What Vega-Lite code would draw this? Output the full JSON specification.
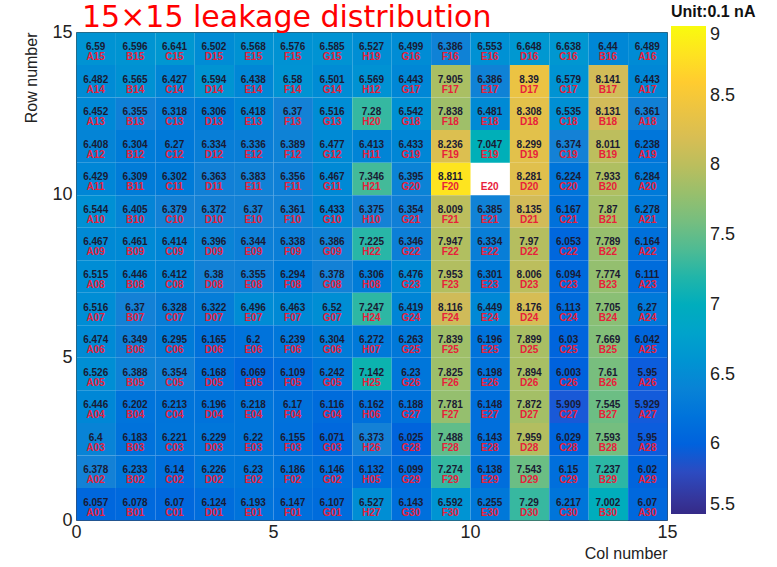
{
"$schema": "https://vega.github.io/schema/vega-lite/v6.json",
"autosize": {"type": "none"},
"padding": {"left": 76, "top": 32, "right": 110, "bottom": 47},
"width": 591,
"height": 488,
"background": "white",
"title": {"text": "15×15 leakage distribution", "anchor": "start", "frame": "bounds", "offset": 0, "dy": 29, "dx": 58, "fontSize": 30, "font": "DejaVu Sans", "fontWeight": "normal", "color": "#ff0000"},
"config": {"view": {"stroke": "#444", "strokeWidth": 1}, "font": "Liberation Sans"},
"data": {"values": [
{"r":14,"c":0,"v":6.59,"l":"A15"},{"r":14,"c":1,"v":6.596,"l":"B15"},{"r":14,"c":2,"v":6.641,"l":"C15"},{"r":14,"c":3,"v":6.502,"l":"D15"},{"r":14,"c":4,"v":6.568,"l":"E15"},{"r":14,"c":5,"v":6.576,"l":"F15"},{"r":14,"c":6,"v":6.585,"l":"G15"},{"r":14,"c":7,"v":6.527,"l":"H19"},{"r":14,"c":8,"v":6.499,"l":"G16"},{"r":14,"c":9,"v":6.386,"l":"F16"},{"r":14,"c":10,"v":6.553,"l":"E16"},{"r":14,"c":11,"v":6.648,"l":"D16"},{"r":14,"c":12,"v":6.638,"l":"C16"},{"r":14,"c":13,"v":6.44,"l":"B16"},{"r":14,"c":14,"v":6.489,"l":"A16"},
{"r":13,"c":0,"v":6.482,"l":"A14"},{"r":13,"c":1,"v":6.565,"l":"B14"},{"r":13,"c":2,"v":6.427,"l":"C14"},{"r":13,"c":3,"v":6.594,"l":"D14"},{"r":13,"c":4,"v":6.438,"l":"E14"},{"r":13,"c":5,"v":6.58,"l":"F14"},{"r":13,"c":6,"v":6.501,"l":"G14"},{"r":13,"c":7,"v":6.569,"l":"H12"},{"r":13,"c":8,"v":6.443,"l":"G17"},{"r":13,"c":9,"v":7.905,"l":"F17"},{"r":13,"c":10,"v":6.386,"l":"E17"},{"r":13,"c":11,"v":8.39,"l":"D17"},{"r":13,"c":12,"v":6.579,"l":"C17"},{"r":13,"c":13,"v":8.141,"l":"B17"},{"r":13,"c":14,"v":6.443,"l":"A17"},
{"r":12,"c":0,"v":6.452,"l":"A13"},{"r":12,"c":1,"v":6.355,"l":"B13"},{"r":12,"c":2,"v":6.318,"l":"C13"},{"r":12,"c":3,"v":6.306,"l":"D13"},{"r":12,"c":4,"v":6.418,"l":"E13"},{"r":12,"c":5,"v":6.37,"l":"F13"},{"r":12,"c":6,"v":6.516,"l":"G13"},{"r":12,"c":7,"v":7.28,"l":"H20"},{"r":12,"c":8,"v":6.542,"l":"G18"},{"r":12,"c":9,"v":7.838,"l":"F18"},{"r":12,"c":10,"v":6.481,"l":"E18"},{"r":12,"c":11,"v":8.308,"l":"D18"},{"r":12,"c":12,"v":6.535,"l":"C18"},{"r":12,"c":13,"v":8.131,"l":"B18"},{"r":12,"c":14,"v":6.361,"l":"A18"},
{"r":11,"c":0,"v":6.408,"l":"A12"},{"r":11,"c":1,"v":6.304,"l":"B12"},{"r":11,"c":2,"v":6.27,"l":"C12"},{"r":11,"c":3,"v":6.334,"l":"D12"},{"r":11,"c":4,"v":6.336,"l":"E12"},{"r":11,"c":5,"v":6.389,"l":"F12"},{"r":11,"c":6,"v":6.477,"l":"G12"},{"r":11,"c":7,"v":6.413,"l":"H11"},{"r":11,"c":8,"v":6.433,"l":"G19"},{"r":11,"c":9,"v":8.236,"l":"F19"},{"r":11,"c":10,"v":7.047,"l":"E19"},{"r":11,"c":11,"v":8.299,"l":"D19"},{"r":11,"c":12,"v":6.374,"l":"C19"},{"r":11,"c":13,"v":8.011,"l":"B19"},{"r":11,"c":14,"v":6.238,"l":"A19"},
{"r":10,"c":0,"v":6.429,"l":"A11"},{"r":10,"c":1,"v":6.309,"l":"B11"},{"r":10,"c":2,"v":6.302,"l":"C11"},{"r":10,"c":3,"v":6.363,"l":"D11"},{"r":10,"c":4,"v":6.383,"l":"E11"},{"r":10,"c":5,"v":6.356,"l":"F11"},{"r":10,"c":6,"v":6.467,"l":"G11"},{"r":10,"c":7,"v":7.346,"l":"H21"},{"r":10,"c":8,"v":6.395,"l":"G20"},{"r":10,"c":9,"v":8.811,"l":"F20"},{"r":10,"c":10,"v":null,"l":"E20"},{"r":10,"c":11,"v":8.281,"l":"D20"},{"r":10,"c":12,"v":6.224,"l":"C20"},{"r":10,"c":13,"v":7.933,"l":"B20"},{"r":10,"c":14,"v":6.284,"l":"A20"},
{"r":9,"c":0,"v":6.544,"l":"A10"},{"r":9,"c":1,"v":6.405,"l":"B10"},{"r":9,"c":2,"v":6.379,"l":"C10"},{"r":9,"c":3,"v":6.372,"l":"D10"},{"r":9,"c":4,"v":6.37,"l":"E10"},{"r":9,"c":5,"v":6.361,"l":"F10"},{"r":9,"c":6,"v":6.433,"l":"G10"},{"r":9,"c":7,"v":6.375,"l":"H10"},{"r":9,"c":8,"v":6.354,"l":"G21"},{"r":9,"c":9,"v":8.009,"l":"F21"},{"r":9,"c":10,"v":6.385,"l":"E21"},{"r":9,"c":11,"v":8.135,"l":"D21"},{"r":9,"c":12,"v":6.167,"l":"C21"},{"r":9,"c":13,"v":7.87,"l":"B21"},{"r":9,"c":14,"v":6.278,"l":"A21"},
{"r":8,"c":0,"v":6.467,"l":"A09"},{"r":8,"c":1,"v":6.461,"l":"B09"},{"r":8,"c":2,"v":6.414,"l":"C09"},{"r":8,"c":3,"v":6.396,"l":"D09"},{"r":8,"c":4,"v":6.344,"l":"E09"},{"r":8,"c":5,"v":6.338,"l":"F09"},{"r":8,"c":6,"v":6.386,"l":"G09"},{"r":8,"c":7,"v":7.225,"l":"H22"},{"r":8,"c":8,"v":6.346,"l":"G22"},{"r":8,"c":9,"v":7.947,"l":"F22"},{"r":8,"c":10,"v":6.334,"l":"E22"},{"r":8,"c":11,"v":7.97,"l":"D22"},{"r":8,"c":12,"v":6.053,"l":"C22"},{"r":8,"c":13,"v":7.789,"l":"B22"},{"r":8,"c":14,"v":6.164,"l":"A22"},
{"r":7,"c":0,"v":6.515,"l":"A08"},{"r":7,"c":1,"v":6.446,"l":"B08"},{"r":7,"c":2,"v":6.412,"l":"C08"},{"r":7,"c":3,"v":6.38,"l":"D08"},{"r":7,"c":4,"v":6.355,"l":"E08"},{"r":7,"c":5,"v":6.294,"l":"F08"},{"r":7,"c":6,"v":6.378,"l":"G08"},{"r":7,"c":7,"v":6.306,"l":"H08"},{"r":7,"c":8,"v":6.476,"l":"G23"},{"r":7,"c":9,"v":7.953,"l":"F23"},{"r":7,"c":10,"v":6.301,"l":"E23"},{"r":7,"c":11,"v":8.006,"l":"D23"},{"r":7,"c":12,"v":6.094,"l":"C23"},{"r":7,"c":13,"v":7.774,"l":"B23"},{"r":7,"c":14,"v":6.111,"l":"A23"},
{"r":6,"c":0,"v":6.516,"l":"A07"},{"r":6,"c":1,"v":6.37,"l":"B07"},{"r":6,"c":2,"v":6.328,"l":"C07"},{"r":6,"c":3,"v":6.322,"l":"D07"},{"r":6,"c":4,"v":6.496,"l":"E07"},{"r":6,"c":5,"v":6.463,"l":"F07"},{"r":6,"c":6,"v":6.52,"l":"G07"},{"r":6,"c":7,"v":7.247,"l":"H24"},{"r":6,"c":8,"v":6.419,"l":"G24"},{"r":6,"c":9,"v":8.116,"l":"F24"},{"r":6,"c":10,"v":6.449,"l":"E24"},{"r":6,"c":11,"v":8.176,"l":"D24"},{"r":6,"c":12,"v":6.113,"l":"C24"},{"r":6,"c":13,"v":7.705,"l":"B24"},{"r":6,"c":14,"v":6.27,"l":"A24"},
{"r":5,"c":0,"v":6.474,"l":"A06"},{"r":5,"c":1,"v":6.349,"l":"B06"},{"r":5,"c":2,"v":6.295,"l":"C06"},{"r":5,"c":3,"v":6.165,"l":"D06"},{"r":5,"c":4,"v":6.2,"l":"E06"},{"r":5,"c":5,"v":6.239,"l":"F06"},{"r":5,"c":6,"v":6.304,"l":"G06"},{"r":5,"c":7,"v":6.272,"l":"H07"},{"r":5,"c":8,"v":6.263,"l":"G25"},{"r":5,"c":9,"v":7.839,"l":"F25"},{"r":5,"c":10,"v":6.196,"l":"E25"},{"r":5,"c":11,"v":7.899,"l":"D25"},{"r":5,"c":12,"v":6.03,"l":"C25"},{"r":5,"c":13,"v":7.669,"l":"B25"},{"r":5,"c":14,"v":6.042,"l":"A25"},
{"r":4,"c":0,"v":6.526,"l":"A05"},{"r":4,"c":1,"v":6.388,"l":"B05"},{"r":4,"c":2,"v":6.354,"l":"C05"},{"r":4,"c":3,"v":6.168,"l":"D05"},{"r":4,"c":4,"v":6.069,"l":"E05"},{"r":4,"c":5,"v":6.109,"l":"F05"},{"r":4,"c":6,"v":6.242,"l":"G05"},{"r":4,"c":7,"v":7.142,"l":"H25"},{"r":4,"c":8,"v":6.23,"l":"G26"},{"r":4,"c":9,"v":7.825,"l":"F26"},{"r":4,"c":10,"v":6.198,"l":"E26"},{"r":4,"c":11,"v":7.894,"l":"D26"},{"r":4,"c":12,"v":6.003,"l":"C26"},{"r":4,"c":13,"v":7.61,"l":"B26"},{"r":4,"c":14,"v":5.95,"l":"A26"},
{"r":3,"c":0,"v":6.446,"l":"A04"},{"r":3,"c":1,"v":6.202,"l":"B04"},{"r":3,"c":2,"v":6.213,"l":"C04"},{"r":3,"c":3,"v":6.196,"l":"D04"},{"r":3,"c":4,"v":6.218,"l":"E04"},{"r":3,"c":5,"v":6.17,"l":"F04"},{"r":3,"c":6,"v":6.116,"l":"G04"},{"r":3,"c":7,"v":6.162,"l":"H06"},{"r":3,"c":8,"v":6.188,"l":"G27"},{"r":3,"c":9,"v":7.781,"l":"F27"},{"r":3,"c":10,"v":6.148,"l":"E27"},{"r":3,"c":11,"v":7.872,"l":"D27"},{"r":3,"c":12,"v":5.909,"l":"C27"},{"r":3,"c":13,"v":7.545,"l":"B27"},{"r":3,"c":14,"v":5.929,"l":"A27"},
{"r":2,"c":0,"v":6.4,"l":"A03"},{"r":2,"c":1,"v":6.183,"l":"B03"},{"r":2,"c":2,"v":6.221,"l":"C03"},{"r":2,"c":3,"v":6.229,"l":"D03"},{"r":2,"c":4,"v":6.22,"l":"E03"},{"r":2,"c":5,"v":6.155,"l":"F03"},{"r":2,"c":6,"v":6.071,"l":"G03"},{"r":2,"c":7,"v":6.373,"l":"H26"},{"r":2,"c":8,"v":6.025,"l":"G28"},{"r":2,"c":9,"v":7.488,"l":"F28"},{"r":2,"c":10,"v":6.143,"l":"E28"},{"r":2,"c":11,"v":7.959,"l":"D28"},{"r":2,"c":12,"v":6.029,"l":"C28"},{"r":2,"c":13,"v":7.593,"l":"B28"},{"r":2,"c":14,"v":5.95,"l":"A28"},
{"r":1,"c":0,"v":6.378,"l":"A02"},{"r":1,"c":1,"v":6.233,"l":"B02"},{"r":1,"c":2,"v":6.14,"l":"C02"},{"r":1,"c":3,"v":6.226,"l":"D02"},{"r":1,"c":4,"v":6.23,"l":"E02"},{"r":1,"c":5,"v":6.186,"l":"F02"},{"r":1,"c":6,"v":6.146,"l":"G02"},{"r":1,"c":7,"v":6.132,"l":"H05"},{"r":1,"c":8,"v":6.099,"l":"G29"},{"r":1,"c":9,"v":7.274,"l":"F29"},{"r":1,"c":10,"v":6.138,"l":"E29"},{"r":1,"c":11,"v":7.543,"l":"D29"},{"r":1,"c":12,"v":6.15,"l":"C29"},{"r":1,"c":13,"v":7.237,"l":"B29"},{"r":1,"c":14,"v":6.02,"l":"A29"},
{"r":0,"c":0,"v":6.057,"l":"A01"},{"r":0,"c":1,"v":6.078,"l":"B01"},{"r":0,"c":2,"v":6.07,"l":"C01"},{"r":0,"c":3,"v":6.124,"l":"D01"},{"r":0,"c":4,"v":6.193,"l":"E01"},{"r":0,"c":5,"v":6.147,"l":"F01"},{"r":0,"c":6,"v":6.107,"l":"G01"},{"r":0,"c":7,"v":6.527,"l":"H27"},{"r":0,"c":8,"v":6.143,"l":"G30"},{"r":0,"c":9,"v":6.592,"l":"F30"},{"r":0,"c":10,"v":6.255,"l":"E30"},{"r":0,"c":11,"v":7.29,"l":"D30"},{"r":0,"c":12,"v":6.217,"l":"C30"},{"r":0,"c":13,"v":7.002,"l":"B30"},{"r":0,"c":14,"v":6.07,"l":"A30"}
]},
"encoding": {
  "x": {"field": "c", "type": "quantitative", "bin": {"step": 1, "extent": [0, 15]}, "scale": {"domain": [0, 15], "nice": false, "zero": false},
        "axis": {"title": "Col number", "titleAnchor": "end", "titleFontSize": 16, "titleFontWeight": "normal", "titleColor": "#222", "titlePadding": 4, "values": [0, 5, 10, 15], "format": "d", "labelFontSize": 18, "labelColor": "#222", "labelFlush": false, "labelPadding": 3, "ticks": false, "domain": false, "grid": false}},
  "y": {"field": "r", "type": "quantitative", "bin": {"step": 1, "extent": [0, 15]}, "scale": {"domain": [0, 15], "nice": false, "zero": false},
        "axis": {"title": "Row number", "titleAnchor": "end", "titleFontSize": 16, "titleFontWeight": "normal", "titleColor": "#222", "titlePadding": 12, "values": [0, 5, 10, 15], "format": "d", "labelFontSize": 18, "labelColor": "#222", "labelFlush": false, "labelPadding": 4, "ticks": false, "domain": false, "grid": false}}
},
"layer": [
  {"mark": {"type": "rect"},
   "encoding": {
     "color": {"condition": {"test": "datum.v === null", "value": "#ffffff"},
       "field": "v", "type": "quantitative",
       "scale": {"domain": [5.5, 5.9375, 6.375, 6.8125, 7.25, 7.6875, 8.125, 8.5625, 9],
                 "range": ["#352a87", "#0f5cdd", "#1481d6", "#06a4ca", "#2eb7a4", "#87bf77", "#d1bb59", "#fec832", "#f9fb0e"]},
       "legend": {"orient": "none", "legendX": 595, "legendY": -28, "direction": "vertical", "title": "Unit:0.1 nA", "titleFontSize": 16, "titleFontWeight": "bold", "titleColor": "#111", "titlePadding": 6, "titleLimit": 200,
                  "gradientLength": 488, "gradientThickness": 35, "gradientStrokeWidth": 0, "values": [5.5, 6, 6.5, 7, 7.5, 8, 8.5, 9], "format": "~g", "labelFontSize": 18, "labelColor": "#222", "labelOffset": 4, "padding": 0}}
   }},
  {"transform": [{"filter": "datum.v !== null"}],
   "mark": {"type": "text", "fontSize": 10, "fontWeight": "bold", "color": "#1a1a33", "dy": -1, "baseline": "middle"},
   "encoding": {"text": {"field": "v", "type": "nominal"}}},
  {"mark": {"type": "text", "fontSize": 10, "fontWeight": "bold", "color": "#e8203a", "dy": 9, "baseline": "middle"},
   "encoding": {"text": {"field": "l", "type": "nominal"}}}
]
}
